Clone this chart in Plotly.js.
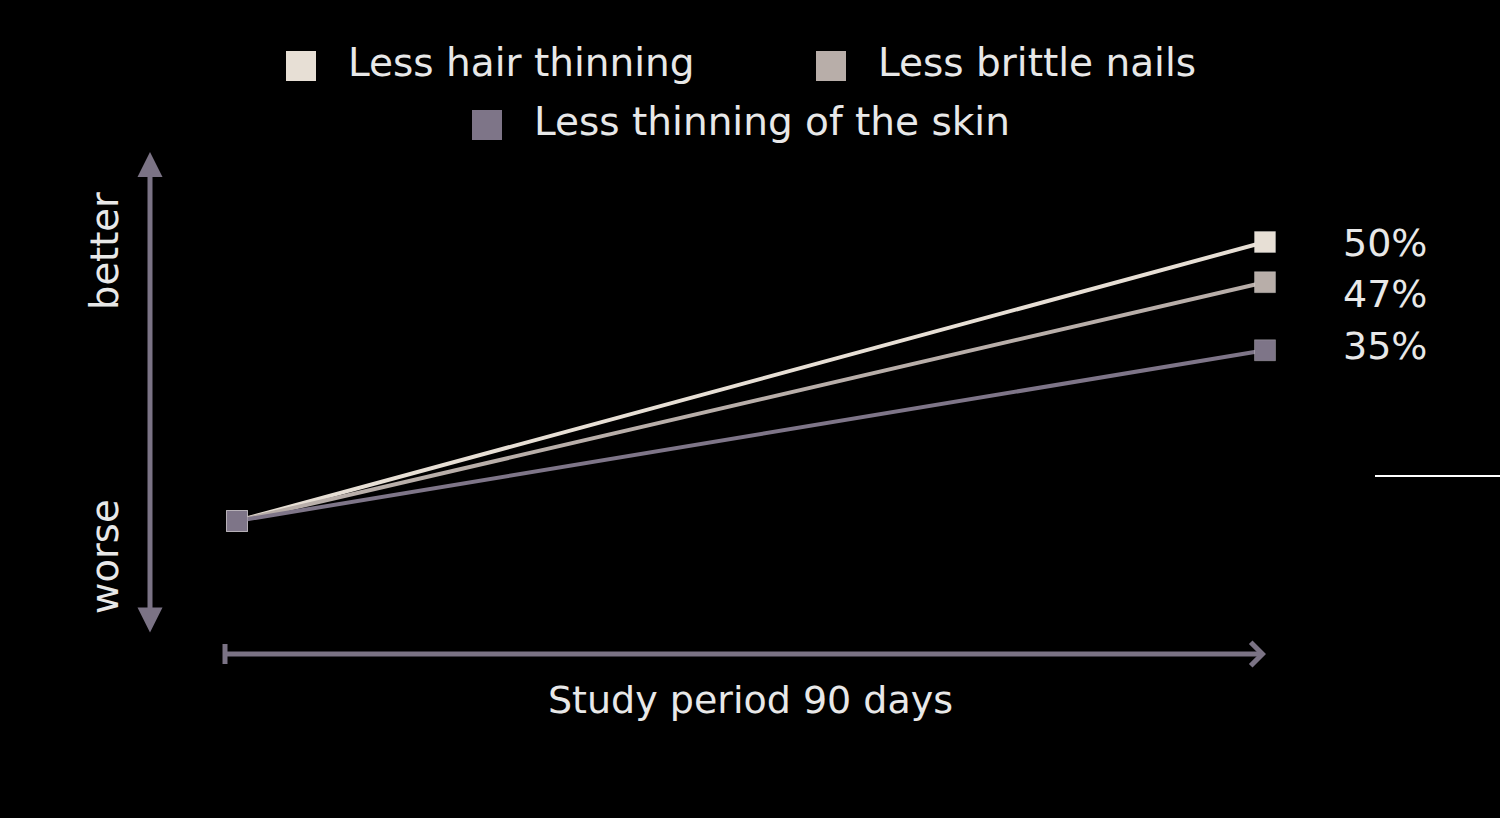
<!DOCTYPE html>
<html>
<head>
<meta charset="utf-8">
<script src="https://cdn.plot.ly/plotly-3.0.1.min.js"></script>
<style>html,body{margin:0;padding:0;background:#000;}#chart{width:1500px;height:818px;}</style>
</head>
<body>
<div id="chart"></div>
<script>
// ---- data ----
const days = [0, 90];
const seriesNames = ['Less hair thinning', 'Less brittle nails', 'Less thinning of the skin'];
const hairValues = [0, 50];
const nailsValues = [0, 42.8];
const skinValues = [0, 30.6];
const endLabels = ['50%', '47%', '35%'];
const yAxisLabels = ['better', 'worse'];
const xAxisTitle = 'Study period 90 days';

// ---- styling ----
const colors = ['#e7dfd5', '#b8aea9', '#7e7588'];
const axisColor = '#7b7385';
const textColor = '#e8e8e8';
const FONT = '"DejaVu Sans", sans-serif';
const WEIGHT = 400;
const W = 1500, H = 818;

// pixel anchors -> axis ranges (plot area = full figure)
const x0px = 237, x1px = 1265, y0px = 521, y1px = 242;
const xs = (x1px - x0px) / (days[1] - days[0]);
const ys = (y0px - y1px) / (hairValues[1] - hairValues[0]);
const xRange = [days[0] - x0px / xs, days[0] + (W - x0px) / xs];
const yRange = [hairValues[0] - (H - y0px) / ys, hairValues[0] + y0px / ys];
const PX = p => p / W;
const PY = p => 1 - p / H;

const seriesValues = [hairValues, nailsValues, skinValues];
const traces = seriesValues.map((vals, i) => ({
  x: days, y: vals, name: seriesNames[i], type: 'scatter', mode: 'lines+markers',
  line: {color: colors[i], width: 4},
  marker: {symbol: 'square', size: 21, color: colors[i], line: {color: 'rgba(255,255,255,0.25)', width: 1}},
  cliponaxis: false, showlegend: false, hoverinfo: 'x+y+name'
}));

const shapes = [];
const annotations = [];
const fnt = (size) => ({family: FONT, size: size, color: textColor, weight: WEIGHT});

// manual legend (large squares)
const legendPos = [[301, 66], [831, 66], [487, 125]];
seriesNames.forEach((n, i) => {
  const [cx, cy] = legendPos[i];
  shapes.push({type: 'rect', xref: 'paper', yref: 'paper',
    x0: PX(cx - 15), x1: PX(cx + 15), y0: PY(cy + 15), y1: PY(cy - 15),
    fillcolor: colors[i], line: {width: 0}});
  annotations.push({xref: 'paper', yref: 'paper', x: PX(cx + 45), y: PY(cy - 3),
    xanchor: 'left', yanchor: 'middle', text: n, showarrow: false, font: fnt(39)});
});

// end value labels
const labelShift = [-1, -12, 4];
endLabels.forEach((t, i) => {
  annotations.push({xref: 'x', yref: 'y', x: days[1], y: seriesValues[i][1],
    xshift: 120, yshift: labelShift[i], text: t, showarrow: false,
    xanchor: 'center', yanchor: 'middle', font: fnt(38)});
});

// y axis double arrow
annotations.push({xref: 'paper', yref: 'paper', x: PX(150), y: PY(152),
  axref: 'pixel', ayref: 'pixel', ax: 0, ay: 634 - 152, text: '', showarrow: true,
  arrowside: 'end+start', arrowhead: 2, startarrowhead: 2, arrowsize: 1.0, startarrowsize: 1.0,
  arrowwidth: 5, arrowcolor: axisColor});

// x axis arrow
annotations.push({xref: 'paper', yref: 'paper', x: PX(1266), y: PY(654),
  ax: 224 - 1266, ay: 0, text: '', showarrow: true,
  arrowhead: 4, arrowsize: 0.9, arrowwidth: 5, arrowcolor: axisColor});
shapes.push({type: 'line', xref: 'paper', yref: 'paper', x0: PX(225), x1: PX(225), y0: PY(644), y1: PY(664),
  line: {color: axisColor, width: 5}});

// y labels
annotations.push({xref: 'paper', yref: 'paper', x: PX(104), y: PY(251), text: yAxisLabels[0],
  textangle: -90, showarrow: false, xanchor: 'center', yanchor: 'middle', font: fnt(38.5)});
annotations.push({xref: 'paper', yref: 'paper', x: PX(104), y: PY(557), text: yAxisLabels[1],
  textangle: -90, showarrow: false, xanchor: 'center', yanchor: 'middle', font: fnt(38.5)});

// x title
annotations.push({xref: 'paper', yref: 'paper', x: PX(750), y: PY(700), text: xAxisTitle,
  showarrow: false, xanchor: 'center', yanchor: 'middle', font: fnt(38)});

// short white rule on the right
shapes.push({type: 'line', xref: 'paper', yref: 'paper', x0: PX(1375), x1: PX(1500), y0: PY(476), y1: PY(476),
  line: {color: '#ffffff', width: 2}});

const layout = {
  width: W, height: H,
  paper_bgcolor: '#000000', plot_bgcolor: '#000000',
  margin: {l: 0, r: 0, t: 0, b: 0},
  xaxis: {range: xRange, visible: false, fixedrange: true},
  yaxis: {range: yRange, visible: false, fixedrange: true},
  showlegend: false,
  shapes: shapes, annotations: annotations,
  font: {family: FONT, color: textColor}
};

Plotly.newPlot('chart', traces, layout, {displayModeBar: false});
</script>
</body>
</html>
